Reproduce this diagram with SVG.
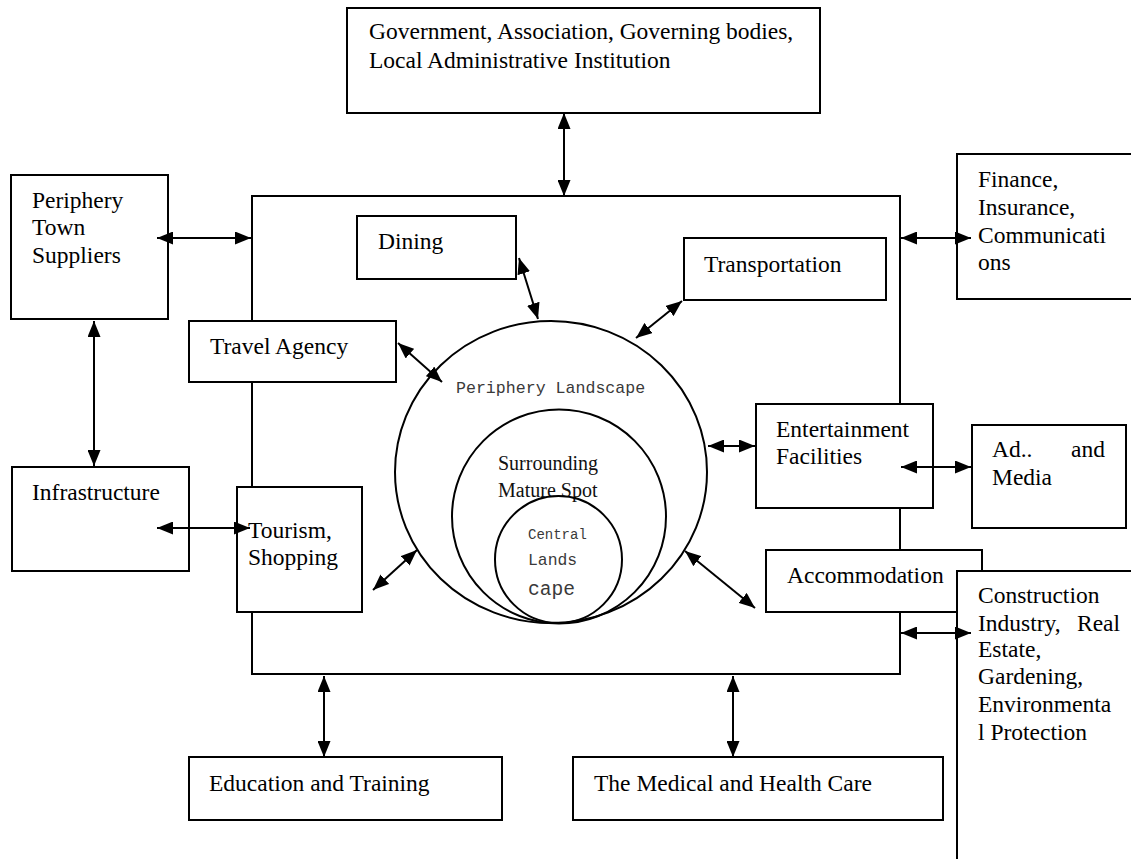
<svg xmlns="http://www.w3.org/2000/svg" width="1131" height="859" viewBox="0 0 1131 859">
  <defs>
    <style>
      .box { fill: #fff; stroke: #000; stroke-width: 2; }
      .ring { fill: none; stroke: #000; stroke-width: 2; }
      .t { font-family: "Liberation Serif", "Times New Roman", serif; font-size: 23.5px; fill: #000; }
      .s { font-family: "Liberation Serif", "Times New Roman", serif; font-size: 20px; fill: #111; }
      .m { font-family: "Liberation Mono", "Courier New", monospace; fill: #3a3a3a; }
      .conn line { stroke: #000; stroke-width: 2; marker-start: url(#ah); marker-end: url(#ah); }
    </style>
    <marker id="ah" viewBox="0 0 16 13" refX="16" refY="6.5" markerWidth="16" markerHeight="13" markerUnits="userSpaceOnUse" orient="auto-start-reverse">
      <path d="M0,0 L16,6.5 L0,13 z" fill="#000"/>
    </marker>
  </defs>

  <rect width="1131" height="859" fill="#fff"/>

  <!-- scenic area frame -->
  <g id="scenic-area">
    <rect class="box" x="252" y="196" width="648" height="478"/>
  </g>

  <!-- nested landscape rings -->
  <g id="landscape">
    <ellipse class="ring" cx="551" cy="472" rx="156" ry="151"/>
    <text class="m" x="456" y="393" font-size="16.6">Periphery Landscape</text>
    <circle class="ring" cx="559" cy="516.5" r="107"/>
    <text class="s" x="498" y="470">Surrounding</text>
    <text class="s" x="498" y="497">Mature Spot</text>
    <circle class="ring" cx="558.5" cy="559.5" r="63.5"/>
    <text class="m" x="528" y="539" font-size="14">Central</text>
    <text class="m" x="528" y="565" font-size="16.4">Lands</text>
    <text class="m" x="528" y="595" font-size="19.6">cape</text>
  </g>

  <g id="government">
    <rect class="box" x="347" y="8" width="473" height="105"/>
    <text class="t" x="369" y="39">Government, Association, Governing bodies,</text>
    <text class="t" x="369" y="68">Local Administrative Institution</text>
  </g>

  <g id="periphery-town">
    <rect class="box" x="11" y="175" width="157" height="144"/>
    <text class="t" x="32" y="208">Periphery</text>
    <text class="t" x="32" y="235">Town</text>
    <text class="t" x="32" y="263">Suppliers</text>
  </g>

  <g id="infrastructure">
    <rect class="box" x="12" y="467" width="177" height="104"/>
    <text class="t" x="32" y="500">Infrastructure</text>
  </g>

  <g id="travel-agency">
    <rect class="box" x="189" y="321" width="207" height="61"/>
    <text class="t" x="210" y="354">Travel Agency</text>
  </g>

  <g id="tourism-shopping">
    <rect class="box" x="237" y="487" width="125" height="125"/>
    <text class="t" x="248" y="538">Tourism,</text>
    <text class="t" x="248" y="565">Shopping</text>
  </g>

  <g id="dining">
    <rect class="box" x="357" y="216" width="159" height="63"/>
    <text class="t" x="378" y="249">Dining</text>
  </g>

  <g id="transportation">
    <rect class="box" x="684" y="238" width="202" height="62"/>
    <text class="t" x="704" y="272">Transportation</text>
  </g>

  <g id="entertainment">
    <rect class="box" x="756" y="404" width="177" height="104"/>
    <text class="t" x="776" y="437">Entertainment</text>
    <text class="t" x="776" y="464">Facilities</text>
  </g>

  <g id="accommodation">
    <rect class="box" x="766" y="550" width="216" height="62"/>
    <text class="t" x="787" y="583">Accommodation</text>
  </g>

  <g id="finance">
    <rect class="box" x="957" y="154" width="190" height="145"/>
    <text class="t" x="978" y="187">Finance,</text>
    <text class="t" x="978" y="215">Insurance,</text>
    <text class="t" x="978" y="243">Communicati</text>
    <text class="t" x="978" y="270">ons</text>
  </g>

  <g id="ad-media">
    <rect class="box" x="972" y="425" width="154" height="103"/>
    <text class="t" x="992" y="457">Ad..</text>
    <text class="t" x="1071" y="457">and</text>
    <text class="t" x="992" y="485">Media</text>
  </g>

  <g id="construction">
    <rect class="box" x="957" y="571" width="190" height="300"/>
    <text class="t" x="978" y="603">Construction</text>
    <text class="t" x="978" y="631">Industry,</text>
    <text class="t" x="1077" y="631">Real</text>
    <text class="t" x="978" y="657">Estate,</text>
    <text class="t" x="978" y="684">Gardening,</text>
    <text class="t" x="978" y="712">Environmenta</text>
    <text class="t" x="978" y="740">l Protection</text>
  </g>

  <g id="education">
    <rect class="box" x="189" y="757" width="313" height="63"/>
    <text class="t" x="209" y="791">Education and Training</text>
  </g>

  <g id="medical">
    <rect class="box" x="573" y="757" width="370" height="63"/>
    <text class="t" x="594" y="791">The Medical and Health Care</text>
  </g>

  <!-- two-way links -->
  <g id="connectors" class="conn">
    <line x1="564" y1="113" x2="564" y2="196"/>
    <line x1="157" y1="238" x2="251" y2="238"/>
    <line x1="94" y1="321" x2="94" y2="466"/>
    <line x1="157" y1="528" x2="250" y2="528"/>
    <line x1="398" y1="343" x2="442" y2="382"/>
    <line x1="519" y1="258" x2="538" y2="319"/>
    <line x1="682" y1="301" x2="636" y2="338"/>
    <line x1="708" y1="446" x2="755" y2="446"/>
    <line x1="901" y1="238" x2="971" y2="238"/>
    <line x1="901" y1="467" x2="971" y2="467"/>
    <line x1="417" y1="550" x2="373" y2="590"/>
    <line x1="685" y1="551" x2="755" y2="608"/>
    <line x1="901" y1="633" x2="971" y2="633"/>
    <line x1="324" y1="676" x2="324" y2="757"/>
    <line x1="733" y1="676" x2="733" y2="757"/>
  </g>
</svg>
